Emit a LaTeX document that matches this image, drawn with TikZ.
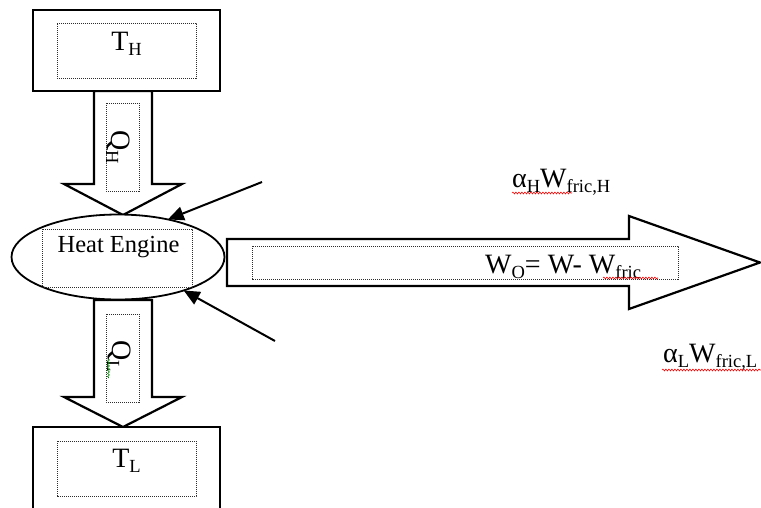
\documentclass[tikz,border=0pt]{standalone}
\usepackage{fontspec}
\setmainfont{Liberation Serif}
\usetikzlibrary{arrows.meta,shapes.geometric,decorations.pathmorphing}

% main text size and Word-style lowered subscripts
\newcommand\dgmfont{\fontsize{28}{31}\selectfont}
\newcommand\dsub[1]{\raisebox{-5pt}{\fontsize{18.5}{20}\selectfont #1}}

\begin{document}
\begin{tikzpicture}[x=1pt,y=-1pt,
  block/.style={draw=black, line width=2.2pt, fill=white, line join=miter},
  textbox/.style={draw=gray!35!black, line width=1pt, dash pattern=on 1.2pt off 0.8pt},
  feed/.style={draw=black, line width=2pt, -{Triangle[length=16pt,width=14pt]}},
  spell/.style={decorate, decoration={snake, segment length=3pt, amplitude=0.9pt}, line width=0.6pt},
  lbl/.style={inner sep=0pt, font=\dgmfont}]
\useasboundingbox (0,0) rectangle (761,507);

% heat flow into the engine
\draw[block] (94,91) -- (94,184) -- (64,184) -- (123,215) -- (182,184) -- (152,184) -- (152,91) -- cycle;
\draw[textbox] (106,103) rectangle (139,191);

% heat flow out of the engine
\draw[block] (94,300) -- (94,397) -- (64,397) -- (123,427) -- (182,397) -- (152,397) -- (152,300) -- cycle;
\draw[textbox] (106,314) rectangle (139,402);

% work output
\draw[block] (227,239) -- (629,239) -- (629,216) -- (760,262.5) -- (629,309) -- (629,286) -- (227,286) -- cycle;
\draw[textbox] (252,246) rectangle (678,279);

% hot reservoir
\node[block, minimum width=187pt, minimum height=81pt, inner sep=0pt, outer sep=0pt] (hot) at (126.5,50.5) {};
\node[textbox, minimum width=139pt, minimum height=55pt, inner sep=0pt] (hotbox) at (hot.center) {};
\node[lbl, anchor=base] (hotlbl) at (126.5,50) {T\dsub{H}};

% cold reservoir
\node[block, minimum width=187pt, minimum height=93pt, inner sep=0pt, outer sep=0pt] (cold) at (126.5,473.5) {};
\draw[textbox] (57,441) rectangle (196,496);
\node[lbl, anchor=base] (coldlbl) at (126.5,467) {T\dsub{L}};

% engine
\node[draw=black, ellipse, line width=1.8pt, fill=white, minimum width=213pt, minimum height=85pt,
      inner sep=0pt, outer sep=0pt] (engine) at (118,257) {};
\draw[textbox] (42,229) rectangle (192,287);
\node[inner sep=0pt, anchor=base, font=\fontsize{24.5}{28}\selectfont] (enginelbl) at (118.5,252) {Heat Engine};

% heat labels, set sideways
\node[lbl, anchor=base, rotate=-90] (qh) at (111,147.5) {Q\dsub{H}};
\node[lbl, anchor=base, rotate=-90] (ql) at (112,356) {Q\dsub{L}};
\draw[spell, green!55!black] (108.5,359) -- (108.5,378);

% friction feeds into the engine
\coordinate (hfree) at (262,182);
\coordinate (lfree) at (275,341);
\draw[feed] (hfree) -- (engine.37.6);
\draw[feed] (lfree) -- (engine.-27.6);

% work and friction labels
\node[lbl, anchor=base west] (wout) at (485,273) {W\dsub{O}= W- W\dsub{fric}};
\draw[spell, red] (603,278) -- (658,278);
\node[lbl, anchor=base west] (fh) at (512,187) {α\dsub{H}W\dsub{fric,H}};
\draw[spell, red] (512,193) -- (572,193);
\node[lbl, anchor=base west] (fl) at (663,362) {α\dsub{L}W\dsub{fric,L}};
\draw[spell, red] (662,370) -- (761,370);
\end{tikzpicture}
\end{document}
